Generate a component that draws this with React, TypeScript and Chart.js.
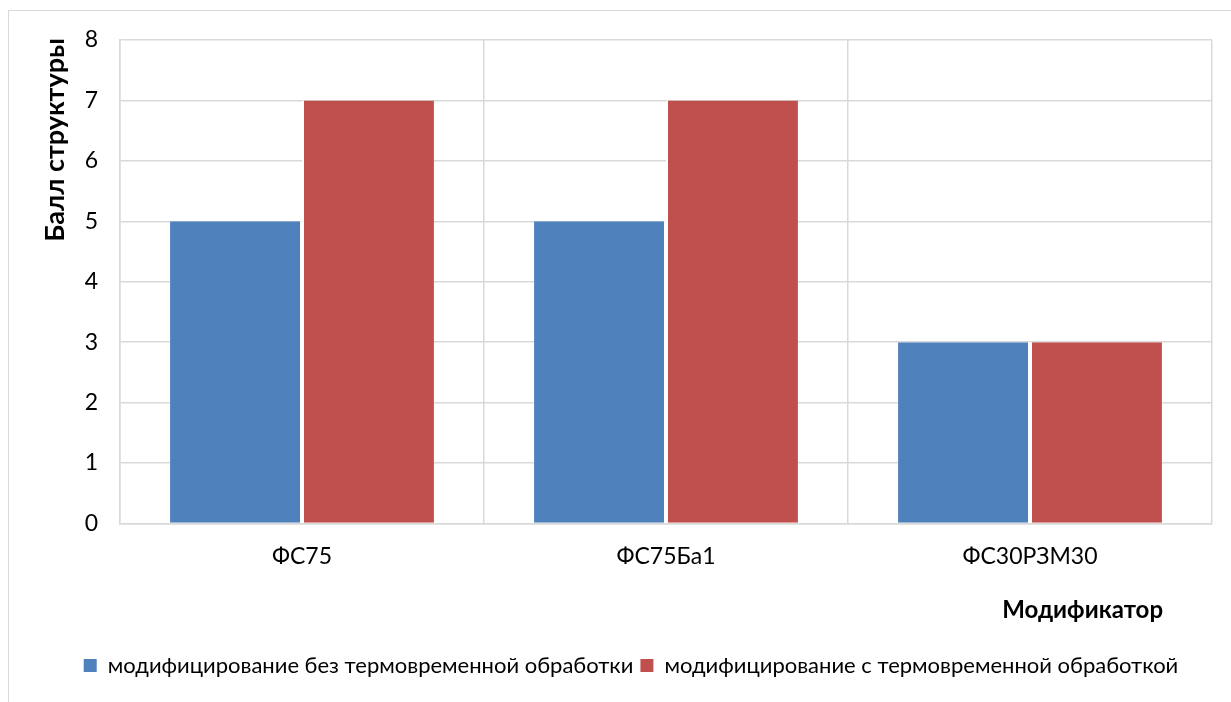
import React, { useEffect, useRef } from "react";
import { Chart, registerables } from "chart.js";

Chart.register(...registerables);

const categories = ["ФС75", "ФС75Ба1", "ФС30РЗМ30"];
const seriesNames = [
  "модифицирование без термовременной обработки",
  "модифицирование с термовременной обработкой",
];
const withoutTreatment = [5, 5, 3];
const withTreatment = [7, 7, 3];
const yTicks = [0, 1, 2, 3, 4, 5, 6, 7, 8];
const yTitle = "Балл структуры";
const xTitle = "Модификатор";

const FONT = "Lato";
const GRID = "#d9d9d9";

const titlesPlugin = {
  id: "axisTitles",
  afterDraw(chart: any) {
    const { ctx, chartArea } = chart;
    ctx.save();
    ctx.fillStyle = "#000";
    ctx.textBaseline = "middle";
    ctx.textAlign = "right";
    ctx.font = `bold 24px ${FONT}`;
    ctx.fillText(xTitle, chartArea.right - 49, chartArea.bottom + 87);
    ctx.font = `bold 27px ${FONT}`;
    ctx.translate(46, chartArea.top - 2);
    ctx.rotate(-Math.PI / 2);
    ctx.textAlign = "right";
    ctx.fillText(yTitle, 0, 0);
    ctx.restore();
  },
};

export default function App() {
  const ref = useRef<HTMLCanvasElement>(null);
  useEffect(() => {
    if (!ref.current) return;
    const chart = new Chart(ref.current, {
      type: "bar",
      data: {
        labels: categories,
        datasets: [
          {
            label: seriesNames[0],
            data: withoutTreatment,
            backgroundColor: "#4F81BD",
            borderColor: "#ffffff",
            borderWidth: { left: 0, right: 2, top: 0, bottom: 0 },
            borderSkipped: false,
            categoryPercentage: 0.725,
            barPercentage: 1,
          },
          {
            label: seriesNames[1],
            data: withTreatment,
            backgroundColor: "#C0504D",
            borderColor: "#ffffff",
            borderWidth: { left: 2, right: 0, top: 0, bottom: 0 },
            borderSkipped: false,
            categoryPercentage: 0.725,
            barPercentage: 1,
          },
        ],
      },
      options: {
        responsive: false,
        animation: false,
        devicePixelRatio: 1,
        layout: { padding: { top: 29, right: 19, left: 41, bottom: 15.5 } },
        font: { family: FONT, size: 23 },
        plugins: {
          tooltip: { enabled: false },
          legend: {
            position: "bottom",
            labels: {
              color: "#000",
              font: { family: FONT, size: 22 },
              boxWidth: 13,
              boxHeight: 13,
              padding: 7,
              generateLabels(chart: any) {
                const items = Chart.defaults.plugins.legend.labels.generateLabels(chart);
                return items.map((it: any) => ({ ...it, lineWidth: 0, strokeStyle: "transparent" }));
              },
            },
          },
        },
        scales: {
          x: {
            afterFit(scale: any) {
              scale.height = 124;
            },
            grid: { color: GRID, lineWidth: 1.5, drawTicks: false, offset: true },
            border: { color: GRID, width: 1.5 },
            ticks: { color: "#000", font: { family: FONT, size: 23 }, padding: 19 },
          },
          y: {
            min: 0,
            max: 8,
            afterFit(scale: any) {
              scale.width = 70;
              scale.paddingTop = 0;
              scale.paddingBottom = 0;
            },
            afterBuildTicks(scale: any) {
              scale.ticks = yTicks.map((v) => ({ value: v }));
            },
            grid: { color: GRID, lineWidth: 1.5, drawTicks: false },
            border: { color: GRID, width: 1.5 },
            ticks: { color: "#000", font: { family: FONT, size: 23 }, padding: 22, stepSize: 1 },
          },
        },
      },
      plugins: [titlesPlugin],
    });
    return () => chart.destroy();
  }, []);

  return (
    <div
      style={{
        position: "absolute",
        left: 8,
        top: 10,
        width: 1223,
        height: 692,
        borderTop: `1px solid ${GRID}`,
        borderLeft: `1px solid ${GRID}`,
        boxSizing: "border-box",
        background: "#fff",
      }}
    >
      <canvas ref={ref} width={1222} height={691} style={{ display: "block" }} />
    </div>
  );
}
